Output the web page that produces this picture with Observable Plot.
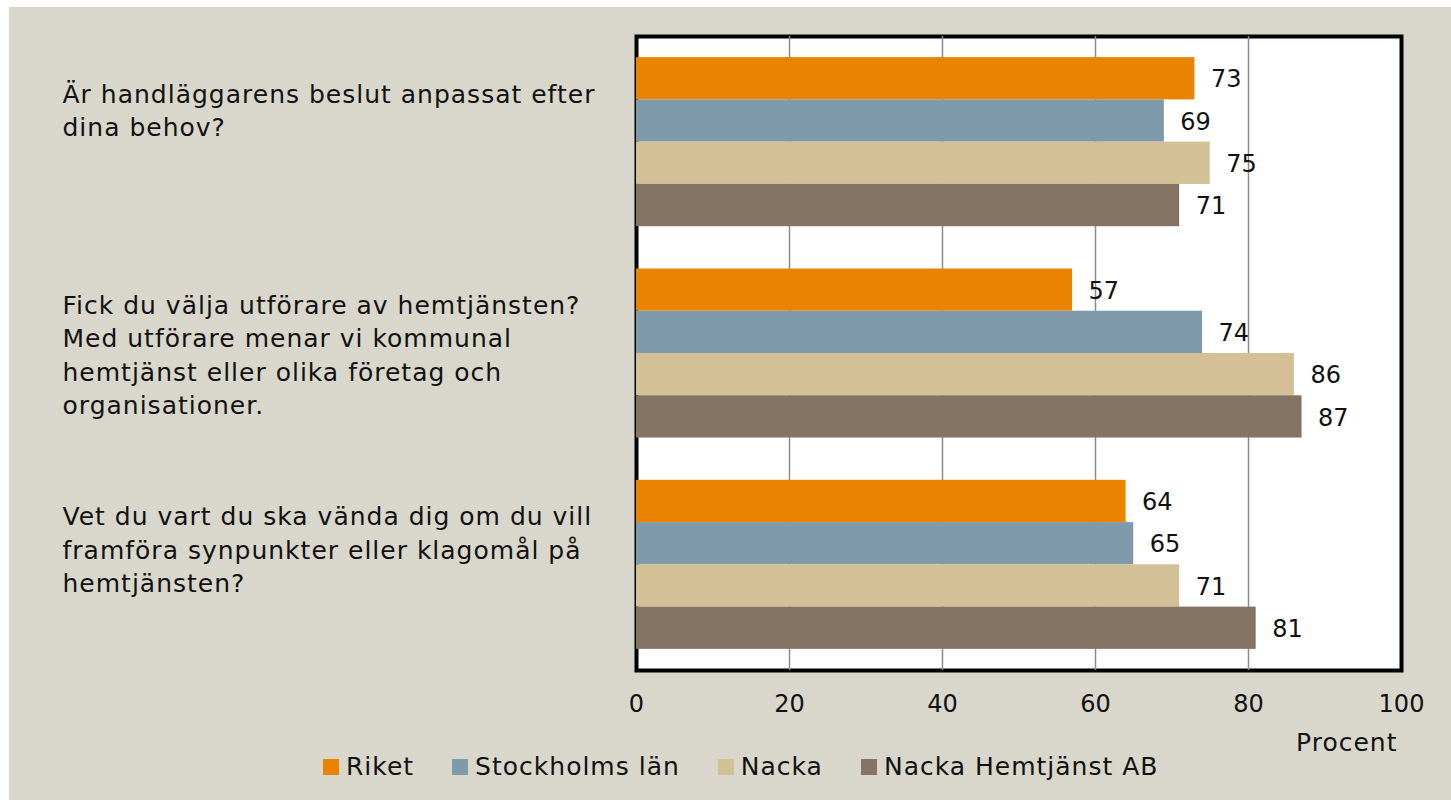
<!DOCTYPE html>
<html>
<head>
<meta charset="utf-8">
<script src="https://cdn.jsdelivr.net/npm/d3@7"></script>
<script src="https://cdn.jsdelivr.net/npm/@observablehq/plot@0.6"></script>
<style>
  html, body { margin: 0; padding: 0; background: #ffffff; }
  #wrap { position: absolute; left: 9px; top: 7px; width: 1442px; height: 793px; background: #d9d7cb; font-family: "DejaVu Sans", sans-serif; }
  #chart { position: absolute; left: 0; top: 0; }
  #legend { position: absolute; left: 314px; top: 745px; display: flex; align-items: center; font-size: 25px; letter-spacing: 1px; color: #111; white-space: nowrap; }
  #legend .item { display: flex; align-items: center; margin-right: 38px; }
  #legend .sw { width: 16px; height: 16px; margin-right: 7px; }
  .wide text { letter-spacing: 1px; }
</style>
</head>
<body>
<div id="wrap">
  <div id="chart"></div>
  <div id="legend"></div>
</div>
<script>
const questions = [
  "Är handläggarens beslut anpassat efter\ndina behov?",
  "Fick du välja utförare av hemtjänsten?\nMed utförare menar vi kommunal\nhemtjänst eller olika företag och\norganisationer.",
  "Vet du vart du ska vända dig om du vill\nframföra synpunkter eller klagomål på\nhemtjänsten?"
];
const series = ["Riket", "Stockholms län", "Nacka", "Nacka Hemtjänst AB"];
const riket = [73, 57, 64];
const stockholmsLan = [69, 74, 65];
const nacka = [75, 86, 71];
const nackaHemtjanst = [71, 87, 81];
const seriesValues = [riket, stockholmsLan, nacka, nackaHemtjanst];
const colors = ["#e98300", "#7f9bab", "#d3c096", "#857464"];
const xTicks = [0, 20, 40, 60, 80, 100];
const xLabel = "Procent";

const W = 1442, H = 760;
const mTop = 29, mBottom = 97, mLeft = 627, mRight = 50;
const padInner = 0.2, padOuter = 0.1;
const innerH = H - mTop - mBottom;
const step = innerH / (questions.length - padInner + 2 * padOuter);
const bandW = step * (1 - padInner);
const barH = bandW / series.length;

const marks = [
  Plot.frame({fill: "white", stroke: "black", strokeWidth: 4}),
  Plot.ruleX(xTicks.filter(d => d > 0 && d < 100), {stroke: "#8c8c8c", strokeWidth: 1.5})
];
series.forEach((s, i) => {
  const rows = questions.map((q, j) => ({q, v: seriesValues[i][j]}));
  marks.push(Plot.barX(rows, {
    x: "v", y: "q", fill: colors[i],
    insetTop: i * barH, insetBottom: (series.length - 1 - i) * barH
  }));
  marks.push(Plot.text(rows, {
    x: "v", y: "q", text: d => String(d.v),
    textAnchor: "start", dx: 16, dy: barH * (i - (series.length - 1) / 2) + 1,
    fill: "#111", fontSize: 24
  }));
});
marks.push(Plot.text(questions, {
  y: d => d, text: d => d, frameAnchor: "left", textAnchor: "start",
  dx: -574, lineAnchor: "top", dy: -63, lineHeight: 1.33, fill: "#111", fontSize: 25,
  className: "wide"
}));
marks.push(Plot.axisX(xTicks, {tickSize: 0, tickPadding: 24, fontSize: 24, label: null}));
marks.push(Plot.text([xLabel], {
  frameAnchor: "bottom-right", textAnchor: "end", lineAnchor: "middle",
  dx: -4, dy: 72, fill: "#111", fontSize: 25, className: "wide"
}));

const chart = Plot.plot({
  width: W, height: H,
  marginTop: mTop, marginBottom: mBottom, marginLeft: mLeft, marginRight: mRight,
  style: {background: "transparent", fontFamily: "DejaVu Sans, sans-serif", fontSize: "24px", color: "#111", overflow: "visible"},
  x: {domain: [0, 100], axis: null},
  y: {domain: questions, axis: null, paddingInner: padInner, paddingOuter: padOuter, round: false},
  marks
});
document.getElementById("chart").appendChild(chart);

const legend = document.getElementById("legend");
series.forEach((s, i) => {
  const item = document.createElement("div");
  item.className = "item";
  const sw = document.createElement("div");
  sw.className = "sw";
  sw.style.background = colors[i];
  const t = document.createElement("span");
  t.textContent = s;
  item.appendChild(sw);
  item.appendChild(t);
  legend.appendChild(item);
});
</script>
</body>
</html>
